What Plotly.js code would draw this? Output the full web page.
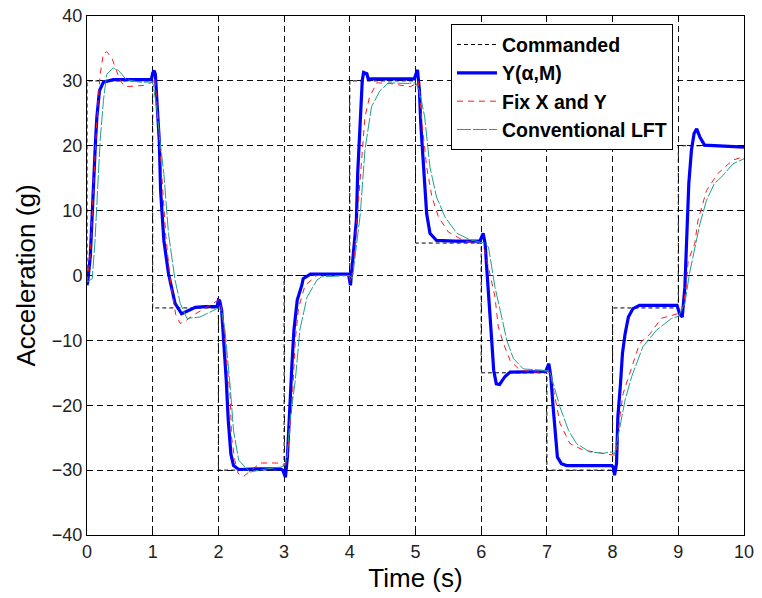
<!DOCTYPE html>
<html>
<head>
<meta charset="utf-8">
<script src="https://cdn.plot.ly/plotly-3.0.1.min.js"></script>
<style>html,body{margin:0;padding:0;background:#fff;}#chart{width:762px;height:598px;}</style>
</head>
<body>
<div id="chart"></div>
<script>
// Commanded step input
const tCmd = [0,0,1,1,2,2,3,3,4,4,5,5,6,6,7,7,8,8,9,9,10];
const cmd  = [0,30,30,-5,-5,-30,-30,0,0,30,30,5,5,-15,-15,-30,-30,-5,-5,20,20];

// Y(alpha,M)
const tY = [0,0.01,0.05,0.09,0.13,0.15,0.19,0.25,0.4,0.7,0.98,1.0,1.02,1.04,1.07,1.10,1.12,1.17,1.24,1.34,1.44,1.57,1.65,1.8,1.98,2.0,2.02,2.05,2.09,2.12,2.15,2.19,2.23,2.31,2.6,2.94,2.98,3.02,3.05,3.08,3.12,3.15,3.20,3.27,3.29,3.40,3.7,3.98,4.01,4.05,4.10,4.12,4.15,4.17,4.19,4.21,4.26,4.28,4.6,4.98,5.03,5.06,5.08,5.11,5.14,5.17,5.22,5.32,5.6,5.98,6.03,6.06,6.09,6.12,6.16,6.19,6.23,6.28,6.36,6.44,6.7,6.98,7.03,7.06,7.09,7.12,7.16,7.22,7.30,7.6,7.98,8.01,8.03,8.06,8.08,8.12,8.15,8.19,8.24,8.31,8.41,8.7,8.98,9.02,9.06,9.10,9.13,9.16,9.20,9.24,9.28,9.33,9.40,9.7,10];
const yY = [-1.5,-1.0,2.9,13.1,20.8,24.4,28.5,29.8,30.2,30.2,30.2,31.2,31.6,31.1,26,20.8,13.1,5.4,0.3,-4.3,-5.9,-5.3,-4.9,-4.8,-4.8,-3.8,-3.9,-5.4,-11,-16.2,-22.3,-27.5,-29.3,-29.9,-29.8,-29.8,-30.0,-31.1,-28,-21.3,-13.6,-8.4,-3.8,-1.5,-0.5,0.2,0.2,0.2,-1.5,2.9,8.5,15.7,22.4,27.3,30.1,31.3,31.1,30.3,30.3,30.3,31.7,28.5,23.4,18.3,13.1,9.5,6.5,5.4,5.3,5.3,6.5,4.9,0.3,-4.9,-10,-14.6,-16.7,-16.8,-15.6,-14.9,-14.8,-14.8,-13.6,-15.6,-19.7,-23.9,-28,-29,-29.3,-29.3,-29.3,-29.5,-30.8,-29,-21.8,-16.7,-12,-9,-6.4,-5.1,-4.6,-4.6,-4.6,-5.9,-6.4,-1.8,6.5,14.2,19.3,21.9,22.6,21.3,20.1,20.0,19.8];

// Fix X and Y
const tFix = [0,0.05,0.1,0.15,0.2,0.25,0.3,0.38,0.45,0.51,0.58,0.7,0.86,1.0,1.03,1.07,1.1,1.15,1.2,1.27,1.35,1.42,1.5,1.62,1.82,2.0,2.03,2.08,2.13,2.18,2.2,2.25,2.3,2.38,2.5,2.64,2.89,3.02,3.05,3.08,3.12,3.17,3.22,3.32,3.5,3.98,4.02,4.06,4.1,4.16,4.23,4.3,4.41,4.61,4.92,5.0,5.04,5.09,5.17,5.25,5.35,5.5,5.73,5.93,6.0,6.05,6.13,6.21,6.26,6.34,6.44,6.59,6.84,7.0,7.05,7.12,7.2,7.35,7.55,7.83,8.03,8.06,8.11,8.16,8.29,8.41,8.57,8.74,8.99,9.07,9.12,9.15,9.25,9.30,9.43,9.60,9.83,10];
const yFix = [-1,3,14,24,31,34.2,34.5,33.5,31.5,30,29.1,29.2,29.3,29.8,30.5,26,21,13,6,-1,-6,-7.4,-7,-6.1,-4.9,-3.8,-4,-7.4,-13.6,-18.7,-24.9,-28.5,-30.5,-31,-30,-28.9,-28.9,-29.3,-28,-25,-20,-10,-5,-1.5,0,0,-1,2,7,14.7,24.4,27.5,29.7,29.6,29.1,29.5,30,24.4,16.7,12.1,9.0,6.7,5.4,4.9,5.0,4,0.3,-3.3,-7.9,-10.5,-13.1,-14.6,-14.9,-14.8,-15,-18.7,-22.8,-25.9,-26.9,-27.4,-27.7,-27,-21.8,-18.2,-14.1,-10.5,-9,-6.6,-5.9,-4.9,-1.8,2.3,4.9,8.5,13.1,15.7,17.8,18.3];

// Conventional LFT
const tConv = [0,0.08,0.12,0.15,0.2,0.25,0.3,0.4,0.48,0.6,0.8,1.0,1.06,1.11,1.17,1.24,1.34,1.42,1.52,1.72,1.92,2.0,2.05,2.1,2.18,2.23,2.31,2.48,2.74,2.97,3.04,3.09,3.17,3.24,3.35,3.5,3.57,4.0,4.04,4.08,4.16,4.23,4.33,4.46,4.59,4.87,5.0,5.06,5.14,5.22,5.32,5.45,5.63,5.83,6.0,6.05,6.11,6.21,6.29,6.39,6.49,6.64,6.94,7.0,7.05,7.10,7.20,7.33,7.45,7.65,7.86,7.98,8.03,8.11,8.19,8.29,8.46,8.67,8.90,9.0,9.10,9.17,9.25,9.33,9.43,9.55,9.66,9.83,10];
const yConv = [-1,-0.5,5,10.6,20.8,27,31,32,31.6,30.2,29.8,29.8,26,20.8,15.7,6.5,-0.7,-4.3,-6.6,-6.4,-5.4,-5,-5.5,-8.4,-17.2,-23.9,-28.5,-30.3,-29.8,-29.5,-28.5,-22.3,-16.2,-8.4,-3.3,-0.7,-0.2,0,-0.5,2.9,9.5,19.3,26,28.5,29.7,29.6,29.7,28.5,24.4,16.7,12.1,9.0,6.5,5.5,5.2,5,4.4,-1.8,-5.4,-10,-12.8,-14.4,-14.6,-14.7,-15,-16.7,-20.3,-23.9,-25.9,-27.2,-27.4,-27.2,-27.5,-23.4,-19.2,-15.6,-11,-8.4,-6.6,-6.3,-4.3,0.3,3.9,8,11.6,14.2,15.2,17.2,18];

const names = ['Commanded', 'Y(\u03b1,M)', 'Fix X and Y', 'Conventional LFT'];

const traces = [
  {x: tCmd, y: cmd, name: names[0], mode: 'lines', line: {color: '#000000', width: 1, dash: '4px,3px'}},
  {x: tY, y: yY, name: names[1], mode: 'lines', line: {color: '#0000ff', width: 3.2}},
  {x: tFix, y: yFix, name: names[2], mode: 'lines', line: {color: '#ff1a1a', width: 1, dash: '6px,5px'}},
  {x: tConv, y: yConv, name: names[3], mode: 'lines', line: {color: '#1fa08a', width: 1, dash: '14px,2px'}}
];

const fontFam = '"Liberation Sans", Arial, Helvetica, sans-serif';
const axisCommon = {
  showline: true, linecolor: '#000', linewidth: 1, mirror: 'ticks',
  ticks: 'inside', ticklen: 5, tickcolor: '#000',
  showgrid: true, gridcolor: '#111', gridwidth: 1, griddash: '6px,4px',
  zeroline: false,
  tickfont: {family: fontFam, size: 18, color: '#222'}
};

const layout = {
  width: 762, height: 598,
  margin: {l: 87, r: 18, t: 16, b: 63},
  paper_bgcolor: '#fff', plot_bgcolor: '#fff',
  font: {family: fontFam},
  xaxis: Object.assign({}, axisCommon, {
    range: [0, 10], dtick: 1, tick0: 0,
    title: {text: 'Time (s)', font: {family: fontFam, size: 26, color: '#000'}, standoff: 8}
  }),
  yaxis: Object.assign({}, axisCommon, {
    range: [-40, 40], dtick: 10, tick0: -40,
    title: {text: 'Acceleration (g)', font: {family: fontFam, size: 26, color: '#000'}, standoff: 8}
  }),
  showlegend: true,
  legend: {
    x: 0.554, y: 0.984, xanchor: 'left', yanchor: 'top',
    bgcolor: '#fff', bordercolor: '#000', borderwidth: 1,
    font: {family: fontFam, size: 19.5, color: '#000', weight: 'bold'},
    itemwidth: 40, tracegroupgap: 0
  }
};

Plotly.newPlot('chart', traces, layout, {displayModeBar: false, staticPlot: true});
</script>
</body>
</html>
